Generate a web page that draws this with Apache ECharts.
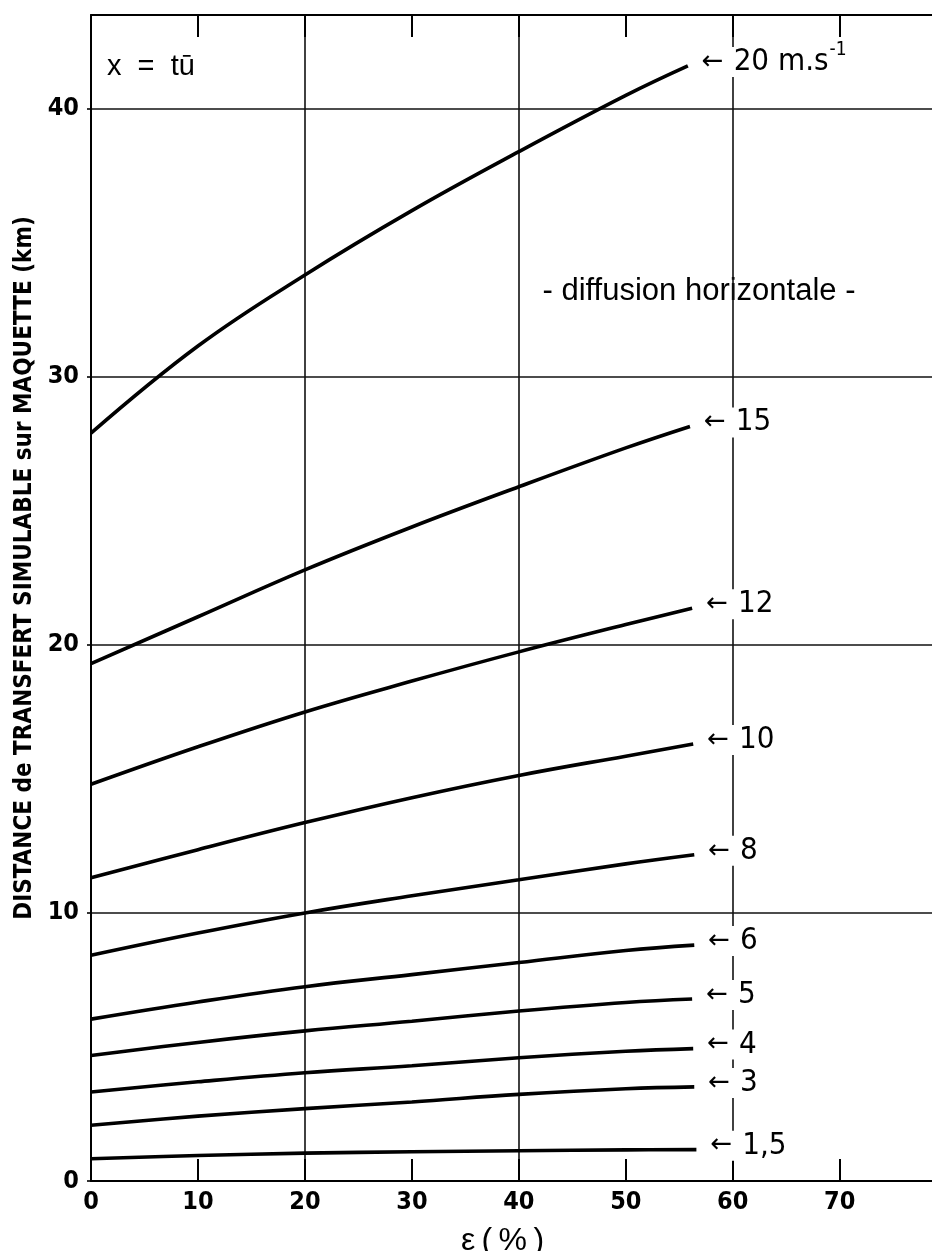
<!DOCTYPE html>
<html>
<head>
<meta charset="utf-8">
<script src="https://cdn.jsdelivr.net/npm/echarts@6/dist/echarts.min.js"></script>
<style>
  html, body { margin: 0; padding: 0; background: #fff; }
  #chart { width: 932px; height: 1251px; }
</style>
</head>
<body>
<div id="chart"></div>
<script>
// Simulable transfer distance on the model (km) as a function of ε (%),
// one curve per wind speed ū (x = t·ū).

const speedLabels = ['20 m.s', '15', '12', '10', '8', '6', '5', '4', '3', '1,5'];

// [ε (%), distance (km)]
const curve20 = [[0, 27.9], [10, 31.15], [20, 33.8], [30, 36.2], [40, 38.4], [50, 40.5], [55.8, 41.6]];
const curve15 = [[0, 19.3], [10, 21.05], [20, 22.8], [30, 24.4], [40, 25.9], [50, 27.35], [56, 28.15]];
const curve12 = [[0, 14.8], [10, 16.2], [20, 17.5], [30, 18.65], [40, 19.74], [50, 20.76], [56.2, 21.37]];
const curve10 = [[0, 11.31], [10, 12.36], [20, 13.37], [30, 14.3], [40, 15.13], [50, 15.85], [56.3, 16.3]];
const curve8 = [[0, 8.42], [10, 9.25], [20, 10.0], [30, 10.64], [40, 11.24], [50, 11.83], [56.4, 12.17]];
const curve6 = [[0, 6.04], [10, 6.68], [20, 7.25], [30, 7.7], [40, 8.15], [50, 8.6], [56.4, 8.8]];
const curve5 = [[0, 4.68], [10, 5.17], [20, 5.6], [30, 5.96], [40, 6.34], [50, 6.66], [56.2, 6.79]];
const curve4 = [[0, 3.32], [10, 3.7], [20, 4.04], [30, 4.3], [40, 4.6], [50, 4.84], [56.3, 4.94]];
const curve3 = [[0, 2.08], [10, 2.42], [20, 2.7], [30, 2.95], [40, 3.23], [50, 3.44], [56.4, 3.51]];
const curve1p5 = [[0, 0.83], [10, 0.95], [20, 1.04], [30, 1.09], [40, 1.13], [50, 1.16], [56.6, 1.17]];

const curves = [curve20, curve15, curve12, curve10, curve8, curve6, curve5, curve4, curve3, curve1p5];

const xTickValues = [0, 10, 20, 30, 40, 50, 60, 70];
const yTickValues = [0, 10, 20, 30, 40];

const narrow = "'Liberation Sans Narrow', 'DejaVu Sans Condensed', 'Liberation Sans', sans-serif";
const plain = "'Liberation Sans', 'DejaVu Sans', sans-serif";
const ink = '#000';

const chart = echarts.init(document.getElementById('chart'), null, { renderer: 'canvas' });

const series = curves.map((data, i) => ({
  type: 'line',
  data: data,
  xAxisIndex: 0,
  yAxisIndex: 0,
  smooth: 0.4,
  showSymbol: false,
  silent: true,
  lineStyle: { color: ink, width: 3.6 },
  endLabel: {
    show: true,
    distance: 14,
    offset: [0, -4],
    backgroundColor: '#fff',
    formatter: () => i === 0
      ? '{arr|←}{val|' + speedLabels[i] + '}{sup|-1}'
      : '{arr|←}{val|' + speedLabels[i] + '}',
    rich: {
      arr: { fontFamily: "'DejaVu Sans', sans-serif", fontSize: 26, color: ink, padding: [0, 10, 0, 0], lineHeight: 30 },
      val: { fontFamily: narrow, fontSize: 31, color: ink, lineHeight: 30 },
      sup: { fontFamily: narrow, fontSize: 19, color: ink, lineHeight: 18, padding: [0, 0, 24, 1] }
    }
  }
}));

const option = {
  backgroundColor: '#fff',
  animation: false,
  grid: { left: 91, right: -4, top: 15, bottom: 70, containLabel: false, outerBoundsMode: 'none' },
  xAxis: [
    {
      type: 'value', position: 'bottom', min: 0, max: 79, interval: 10,
      name: 'ε\u2009(\u2009%\u2009)', nameLocation: 'middle', nameGap: 44,
      nameTextStyle: { fontFamily: plain, fontSize: 32, color: ink, padding: [0, 22, 0, 0] },
      axisLine: { lineStyle: { color: ink, width: 2 } },
      axisTick: { inside: true, length: 22, lineStyle: { color: ink, width: 2 } },
      axisLabel: {
        margin: 9, color: ink, fontFamily: narrow, fontWeight: 'bold', fontSize: 25,
        showMaxLabel: false,
        formatter: v => (xTickValues.includes(v) ? String(v) : '')
      },
      splitLine: { show: false }
    },
    {
      type: 'value', position: 'top', min: 0, max: 79, interval: 10,
      axisLine: { lineStyle: { color: ink, width: 2 } },
      axisTick: { inside: true, length: 22, lineStyle: { color: ink, width: 2 } },
      axisLabel: { show: false },
      splitLine: { show: false }
    },
    {
      type: 'value', position: 'bottom', min: 0, max: 79, interval: 20,
      axisLine: { show: false },
      axisTick: { show: false },
      axisLabel: { show: false },
      splitLine: { show: true, lineStyle: { color: '#111', width: 1.6 } }
    }
  ],
  yAxis: [
    {
      type: 'value', min: 0, max: 43.5, interval: 10,
      name: 'DISTANCE de TRANSFERT SIMULABLE sur MAQUETTE (km)',
      nameLocation: 'middle', nameRotate: 90, nameGap: 54,
      nameTextStyle: { fontFamily: narrow, fontWeight: 'bold', fontSize: 24, color: ink, padding: [0, 0, 0, 60] },
      axisLine: { lineStyle: { color: ink, width: 2 } },
      axisTick: { show: true, inside: false, length: 4, lineStyle: { color: ink, width: 1.6 } },
      axisLabel: {
        margin: 12, color: ink, fontFamily: narrow, fontWeight: 'bold', fontSize: 25,
        showMaxLabel: false,
        formatter: v => (yTickValues.includes(v) ? String(v) : '')
      },
      splitLine: { show: true, lineStyle: { color: '#111', width: 1.6 } }
    }
  ],
  graphic: [
    {
      type: 'text', x: 107, y: 67, silent: true,
      style: { text: 'x  =  tū', font: "29px 'Liberation Sans', sans-serif", fill: ink, textVerticalAlign: 'middle' }
    },
    {
      type: 'text', x: 699, y: 291, silent: true,
      style: { text: '- diffusion horizontale -', font: "31px 'Liberation Sans', sans-serif", fill: ink,
               textAlign: 'center', textVerticalAlign: 'middle', backgroundColor: '#fff', padding: [10, 0, 10, 0] }
    }
  ],
  series: series
};

chart.setOption(option);
</script>
</body>
</html>
